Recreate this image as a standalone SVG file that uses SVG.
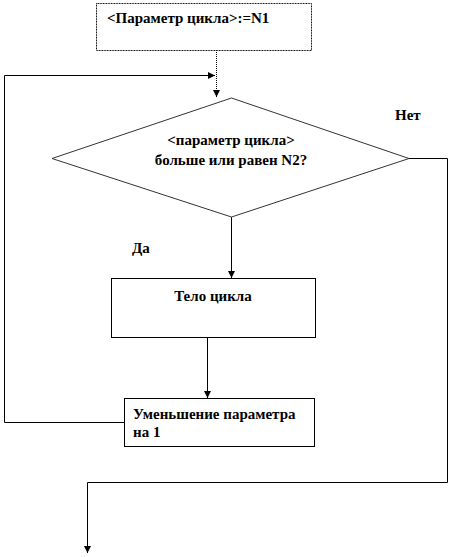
<svg xmlns="http://www.w3.org/2000/svg" width="474" height="557" viewBox="0 0 474 557">
<style>
.box{fill:#fff;stroke:#000;stroke-width:1}
.dia{fill:#fff;stroke:#333;stroke-width:1}
.t{font-family:"Liberation Serif","Times New Roman","DejaVu Serif",serif;font-weight:bold;font-size:15px;fill:#000}
.c{fill:none;stroke:#000;stroke-width:1}
</style>
<defs>
<marker id="ar" viewBox="0 0 8 8" refX="8" refY="4" markerWidth="7" markerHeight="7" orient="auto" markerUnits="userSpaceOnUse">
<path d="M0,0 L8,4 L0,8 z" fill="#000"/>
</marker>
</defs>
<g id="connectors">
<line class="c" x1="216.5" y1="50" x2="216.5" y2="97" stroke-dasharray="1,1" marker-end="url(#ar)"/>
<polyline class="c" points="124,422.5 4.5,422.5 4.5,75.5 215,75.5" marker-end="url(#ar)"/>
<line class="c" x1="231.5" y1="217" x2="231.5" y2="278" marker-end="url(#ar)"/>
<line class="c" x1="207.5" y1="338" x2="207.5" y2="398" marker-end="url(#ar)"/>
<polyline class="c" points="409,158.5 447.5,158.5 447.5,482.5 87.5,482.5 87.5,553" marker-end="url(#ar)"/>
</g>
<g id="start">
<rect class="box" x="96.5" y="3.5" width="215" height="47" stroke-dasharray="1,0.6"/>
<text class="t" x="107" y="23">&lt;Параметр цикла&gt;:=N1</text>
</g>
<g id="cond">
<polygon class="dia" points="231.5,98 409,158.5 231.5,217 52,158.5"/>
<text class="t" x="231" y="145" text-anchor="middle" font-size="13.5">&lt;параметр цикла&gt;</text>
<text class="t" x="231" y="165" text-anchor="middle">больше  или равен N2?</text>
</g>
<g id="label-no"><text class="t" x="395" y="120">Нет</text></g>
<g id="label-yes"><text class="t" x="132" y="253">Да</text></g>
<g id="body">
<rect class="box" x="111.5" y="278.5" width="204" height="59"/>
<text class="t" x="213" y="301" text-anchor="middle">Тело цикла</text>
</g>
<g id="dec">
<rect class="box" x="124.5" y="398.5" width="190" height="48"/>
<text class="t" x="133" y="419">Уменьшение параметра</text>
<text class="t" x="133" y="437">на 1</text>
</g>
</svg>
